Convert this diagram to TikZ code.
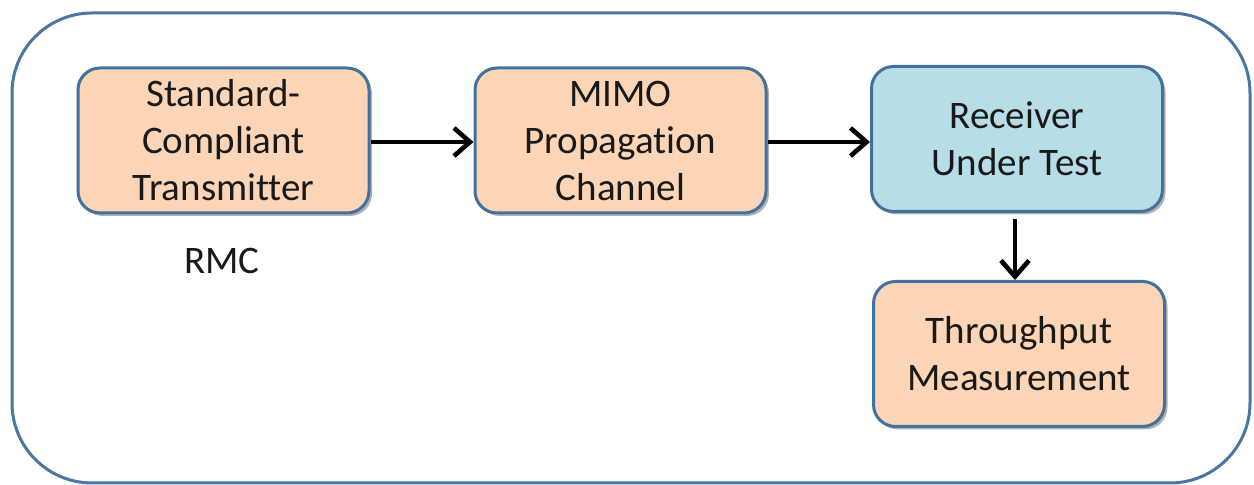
\documentclass[tikz,border=0pt]{standalone}
\usepackage{fontspec}
\setmainfont{Carlito}[Ligatures={NoCommon}]
\usetikzlibrary{arrows.meta,shadows}
\definecolor{peach}{HTML}{FBD5B5}
\definecolor{lblue}{HTML}{B7DDE8}
\definecolor{edgeblue}{HTML}{41719C}
\definecolor{outerblue}{HTML}{4A76A6}
\tikzset{
  blk/.style={draw=edgeblue, line width=1.5pt, rounded corners=11pt,
    minimum width=145.5pt, minimum height=72.5pt, align=center,
    font=\fontsize{19.5}{23.5}\selectfont, text=black!90,
    drop shadow={shadow xshift=1.5pt, shadow yshift=-1.5pt, opacity=0.3, fill=black}},
  peachblk/.style={blk, fill=peach},
  blueblk/.style={blk, fill=lblue},
  conn/.style={line width=2.3pt, -{Straight Barb[length=8pt,width=14pt,line width=2.3pt]}},
}
\begin{document}
\begin{tikzpicture}[x=0.5pt,y=-0.5pt]
\useasboundingbox (0,0) rectangle (1254,485);
\draw[outerblue, line width=1.5pt, rounded corners=40pt, fill=white] (12,13) rectangle (1250,483);
\node[peachblk] (tx) at (223.5,140.5) {Standard-\\Compliant\\Transmitter};
\node[peachblk] (ch) at (620.5,140.5) {MIMO\\Propagation\\Channel};
\node[blueblk] (rx) at (1017,139) {Receiver\\Under Test};
\node[peachblk] (tp) at (1019,354) {Throughput\\Measurement};
\node[font=\fontsize{19.5}{23.5}\selectfont, text=black!90] (rmc) at (222,261) {RMC};
\draw[conn] (tx.east |- 0,142) -- (ch.west |- 0,142);
\draw[conn] (ch.east |- 0,142) -- (rx.west |- 0,142);
\draw[conn] ([yshift=-3pt]rx.south -| 1015,0) -- (tp.north -| 1015,0);
\end{tikzpicture}
\end{document}
